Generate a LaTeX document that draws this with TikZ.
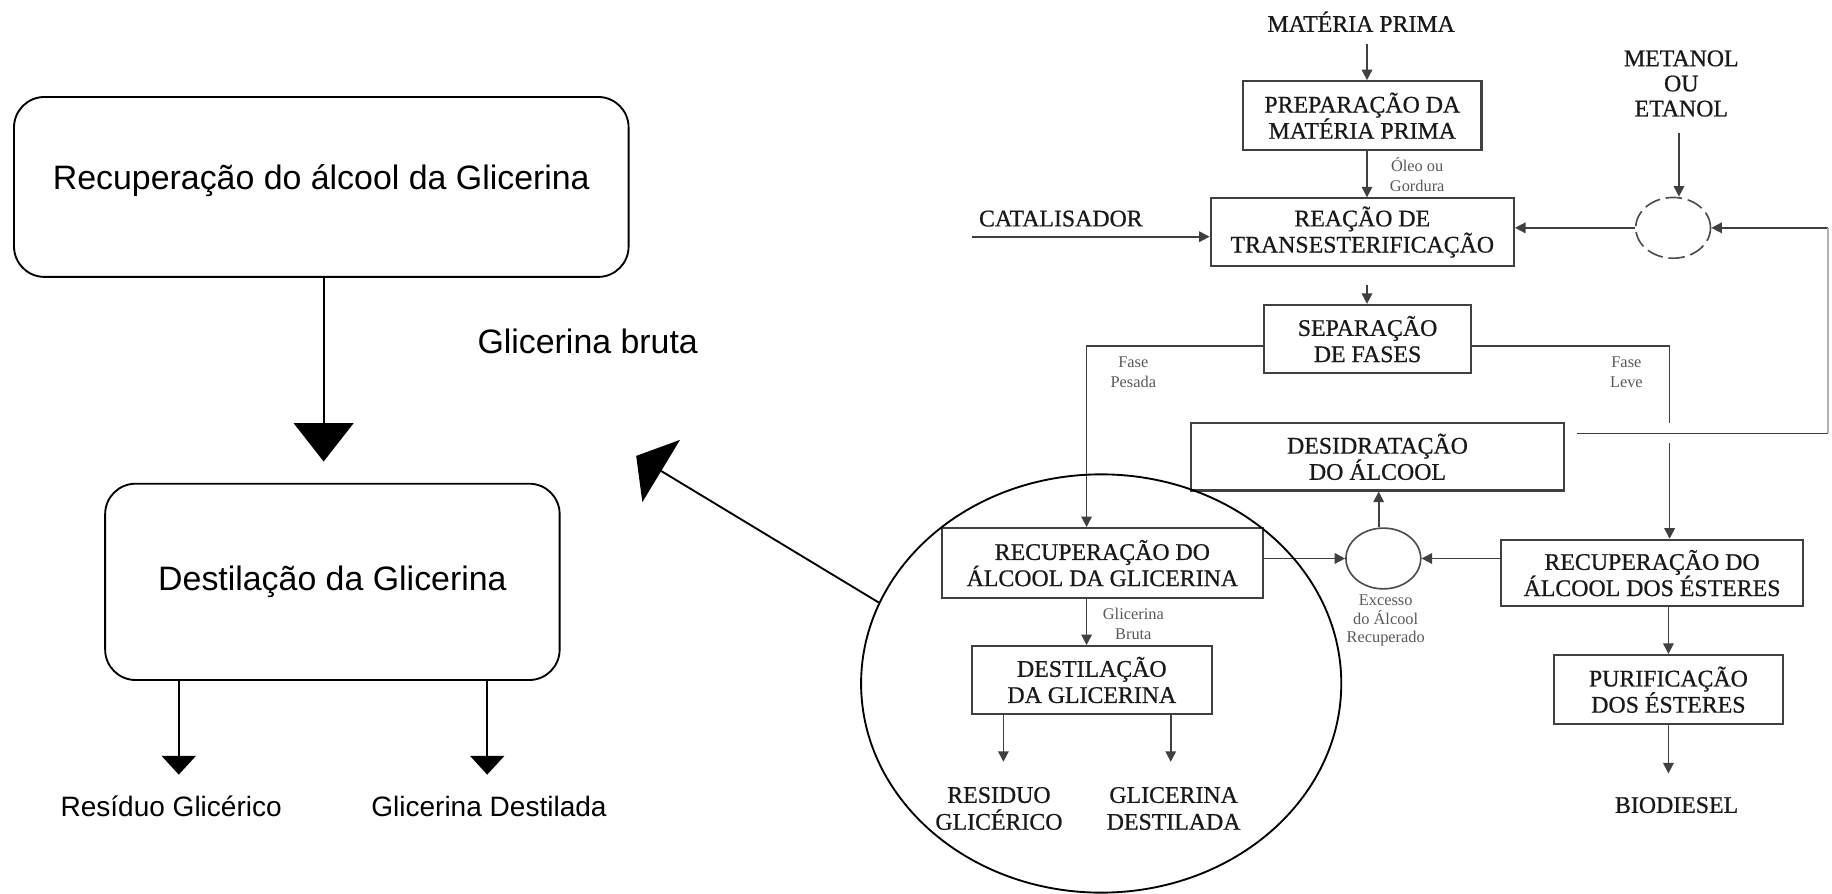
\documentclass[tikz,border=0pt]{standalone}
\usepackage{fontspec}
\setmainfont{Liberation Serif}
\newfontfamily\arialf{Liberation Sans}
\newfontfamily\heavyserif{Liberation Serif}[FakeBold=0.7]
\usetikzlibrary{arrows.meta,shapes.geometric}
\begin{document}
\begin{tikzpicture}[x=0.5pt,y=-0.5pt,
  lbox/.style={draw=black, line width=0.8pt, rounded corners=13pt, inner sep=0pt,
    font=\arialf\fontsize{14.5}{17}\selectfont},
  ltxt/.style={inner sep=0pt, font=\arialf\fontsize{14.5}{17}\selectfont},
  ltxtb/.style={inner sep=0pt, font=\arialf\fontsize{12}{14}\selectfont},
  lline/.style={draw=black, line width=0.8pt},
  bigdown/.style={lline, -{Triangle[width=25.5pt,length=16.4pt]}},
  smalldown/.style={lline, -{Triangle[width=14.5pt,length=8pt]}},
  bigdiag/.style={lline, -{Triangle[width=31pt,length=12.5pt]}},
  rbox/.style={draw=black!75, line width=0.9pt, align=center, inner sep=0pt,
    font=\heavyserif\fontsize{10.2}{11.2}\selectfont, text=black!90},
  rtxt/.style={align=center, inner sep=0pt, font=\heavyserif\fontsize{10.2}{11.5}\selectfont, text=black!90},
  small/.style={align=center, inner sep=0pt, font=\fontsize{7}{8.5}\selectfont, text=black!65},
  rline/.style={draw=black!75, line width=0.7pt},
  rarr/.style={rline, -{Triangle[width=4.5pt,length=4.5pt]}},
  circ/.style={ellipse, draw=black!70, line width=0.7pt, minimum width=32pt, minimum height=26pt, inner sep=0pt}
]
\useasboundingbox (0,0) rectangle (1568,765);

% ---------- left part ----------
\node[lbox, minimum width=263pt, minimum height=77pt, text height=10pt, text depth=7.6pt] (L1) at (275,160) {Recuperação do álcool da Glicerina};
\node[lbox, minimum width=194.5pt, minimum height=84pt] (L2) at (284.5,498) {Destilação da Glicerina};
\node[ltxt, anchor=base] (GB) at (503,302.9) {Glicerina bruta};
\coordinate (Lt) at (277,395);
\draw[bigdown] (L1.south -| Lt) -- (Lt);
\coordinate (ra) at (153,663);
\coordinate (ga) at (417,663);
\draw[smalldown] (L2.south -| ra) -- (ra);
\draw[smalldown] (L2.south -| ga) -- (ga);
\node[ltxtb, anchor=base] (RGl) at (146.5,698.6) {Resíduo Glicérico};
\node[ltxtb, anchor=base] (GDl) at (418.5,698.6) {Glicerina Destilada};

% ---------- right part ----------
\node[rtxt, anchor=base] (MP) at (1165,27.25) {MATÉRIA PRIMA};
\node[rbox, minimum width=102pt, minimum height=29.5pt] (PREP) at (1166,99) {PREPARAÇÃO DA\\MATÉRIA PRIMA};
\node[rbox, minimum width=129.75pt, minimum height=28.8pt] (REA) at (1166,198.6) {REAÇÃO DE\\TRANSESTERIFICAÇÃO};
\coordinate (cx) at (1170,0);
\draw[rarr] ([yshift=-5pt]MP.south -| cx) -- (PREP.north -| cx);
\draw[rarr] (PREP.south -| cx) -- (REA.north -| cx);
\node[small] (OG) at (1213,149.5) {Óleo ou\\Gordura};

\node[rtxt, anchor=base] (CAT) at (908,193.75) {CATALISADOR};
\coordinate (cat0) at (832,202.6);
\draw[rarr] (cat0) -- (cat0 -| REA.west);

\node[rtxt, font=\heavyserif\fontsize{10.2}{10.75}\selectfont] (MET) at (1439,71.5) {METANOL\\OU\\ETANOL};
\node[circ, dash pattern=on 7pt off 2.5pt] (C1) at (1432,195) {};
\coordinate (m0) at (1437,114);
\draw[rarr] (m0) -- (m0 |- C1.north);
\draw[rarr] (C1.west) -- (C1.west -| REA.east);
\coordinate (rc) at (1564.5,195);
\draw[rarr] (rc) -- (C1.east);

\node[rbox, minimum width=88.5pt, minimum height=29.25pt] (SEP) at (1170.5,290.25) {SEPARAÇÃO\\DE FASES};
\coordinate (s0) at (1170,244);
\draw[rarr] (s0) -- (s0 |- SEP.north);

\node[rbox, minimum width=137.5pt, minimum height=30pt] (RG) at (943.5,482) {RECUPERAÇÃO DO\\ÁLCOOL DA GLICERINA};
\node[rbox, minimum width=129pt, minimum height=28.5pt] (RE) at (1414,490.5) {RECUPERAÇÃO DO\\ÁLCOOL DOS ÉSTERES};
\node[rbox, minimum width=159.5pt, minimum height=28.85pt] (DES) at (1179,391) {DESIDRATAÇÃO\\DO ÁLCOOL};

\coordinate (px) at (930,296);
\draw[rarr] (SEP.west |- px) -| (RG.north -| px);
\node[small] (FP) at (970,318.5) {Fase\\Pesada};
\coordinate (lx) at (1429,296);
\draw[rarr] (SEP.east |- lx) -| (RE.north -| lx);
\node[small] (FL) at (1392,318.5) {Fase\\Leve};

% return line from dehydration to the alcohol circle
\coordinate (rs) at (1350,371);
\fill[white] (1421,362) rectangle (1437,379);
\draw[rline] (rs) -- (rs -| rc);
\draw[rline, draw=black!30] (rs -| rc) -- (rc);

\node[circ] (C2) at (1184,478) {};
\coordinate (ux) at (1180,0);
\draw[rarr] (C2.north -| ux) -- (DES.south -| ux);
\draw[rarr] (C2.west -| RG.east) -- (C2.west);
\draw[rarr] (C2.east -| RE.west) -- (C2.east);
\node[small, font=\fontsize{7}{7.75}\selectfont] (EX) at (1186,531) {Excesso\\do Álcool\\Recuperado};

\node[rbox, minimum width=102.5pt, minimum height=29pt] (DEST) at (934.5,582) {DESTILAÇÃO\\DA GLICERINA};
\coordinate (gx) at (930,0);
\draw[rarr] (RG.south -| gx) -- (DEST.north -| gx);
\node[small] (GBr) at (970,534) {Glicerina\\Bruta};
\coordinate (da) at (858.8,652);
\coordinate (db) at (1002,652);
\draw[rarr] (DEST.south -| da) -- (da);
\draw[rarr] (DEST.south -| db) -- (db);
\node[rtxt] (RES) at (855,692) {RESIDUO\\GLICÉRICO};
\node[rtxt] (GDS) at (1004.5,692) {GLICERINA\\DESTILADA};

\node[rbox, minimum width=98pt, minimum height=29.7pt] (PUR) at (1428,590.3) {PURIFICAÇÃO\\DOS ÉSTERES};
\draw[rarr] (RE.south -| PUR.north) -- (PUR.north);
\coordinate (bo) at (1428,662);
\draw[rarr] (PUR.south) -- (bo);
\node[rtxt, anchor=base] (BIO) at (1435,695.75) {BIODIESEL};

% big ellipse and the arrow to the left detail
\node[ellipse, draw=black, line width=0.8pt, minimum width=205.5pt, minimum height=179pt, inner sep=0pt] (BigE) at (942.5,585) {};
\coordinate (bt) at (544.5,390.2);
\draw[bigdiag] (BigE.160) -- (bt);
\end{tikzpicture}
\end{document}
